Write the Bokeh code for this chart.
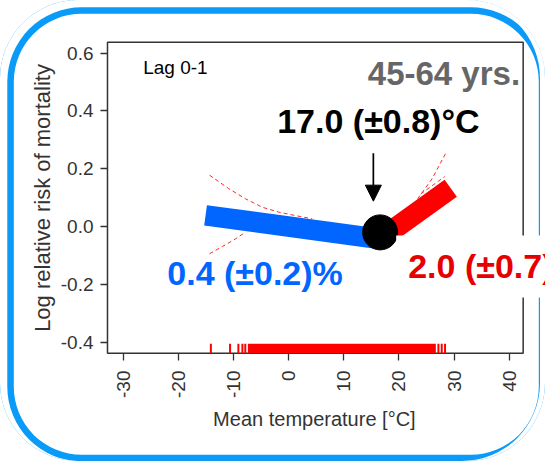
import math
from bokeh.plotting import figure
from bokeh.models import (Range1d, FixedTicker, PrintfTickFormatter, Label, Arrow,
                          NormalHead)
from bokeh.embed import file_html
from bokeh.resources import INLINE

# ---------------- data ----------------
x_ticks = [-30, -20, -10, 0, 10, 20, 30, 40]
y_ticks = [-0.4, -0.2, 0.0, 0.2, 0.4, 0.6]

cold_x = [-15.06, 16.6]
cold_y = [0.039, -0.043]
heat_x = [16.6, 29.4]
heat_y = [-0.043, 0.133]
threshold_x = [16.6]
threshold_y = [-0.020]

ci_cold_upper_x = [-14.34, -10.84, -7.80, -4.77, -1.76, 1.27, 4.30]
ci_cold_upper_y = [0.178, 0.131, 0.096, 0.067, 0.050, 0.038, 0.027]
ci_cold_lower_x = [-14.34, -12.03, -9.93, -7.80]
ci_cold_lower_y = [-0.094, -0.069, -0.046, -0.019]
ci_heat_upper_x = [23.4, 26.0, 28.5]
ci_heat_upper_y = [0.096, 0.165, 0.254]
ci_heat_fit_x = [23.96, 28.31]
ci_heat_fit_y = [0.113, 0.173]

rug_x = [-14.1, -10.62, -9.11, -8.38, -7.86, 27.17, 27.77, 28.37]
rug_dense_left = [-7.39]
rug_dense_right = [26.7]

arrow_x = 15.37
arrow_y_start = 0.254
arrow_y_end = 0.088

# panel box (R-style plot region) and the visible ranges
box_x0, box_x1 = -32.85, 42.54
box_y0, box_y1 = -0.438, 0.638
x_lo, x_hi = -33.21, 46.59
y_lo, y_hi = -0.446, 0.6439
rug_top = -0.405

FONT = "Liberation Sans"
GREY = "#333333"
BLUE = "#0066FF"
RED = "#FF0000"

p = figure(frame_width=440, frame_height=315,
           min_border_left=105, min_border_right=0,
           min_border_top=40, min_border_bottom=106,
           x_range=Range1d(x_lo, x_hi), y_range=Range1d(y_lo, y_hi),
           output_backend="svg", toolbar_location=None,
           background_fill_alpha=0)
p.border_fill_alpha = 0
p.styles = {"border-radius": "78px",
            "box-shadow": ("inset -5px 0 0 0 white, "
                           "inset 3.8px 3.8px 0 3.5px white, "
                           "inset 3.8px 3.8px 0 10px #0A9AF8"),
            "background-color": "white"}

p.grid.visible = False
p.outline_line_color = None

# axes
p.xaxis.ticker = FixedTicker(ticks=x_ticks)
p.yaxis.ticker = FixedTicker(ticks=y_ticks)
p.xaxis.formatter = PrintfTickFormatter(format="%d")
p.yaxis.formatter = PrintfTickFormatter(format="%.1f")
for ax in (p.xaxis, p.yaxis):
    ax.axis_line_color = None
    ax.minor_tick_line_color = None
    ax.major_tick_in = 2
    ax.major_tick_out = 5
    ax.major_tick_line_color = GREY
    ax.major_tick_line_width = 1.3
    ax.major_label_text_font = FONT
    ax.major_label_text_font_size = "19px"
    ax.major_label_text_color = GREY
    ax.axis_label_text_font = FONT
    ax.axis_label_text_font_style = "normal"
    ax.axis_label_text_color = GREY
p.xaxis.major_label_orientation = math.pi / 2
p.xaxis.major_label_standoff = 10
p.yaxis.major_label_standoff = 7
p.xaxis.axis_label = "Mean temperature [°C]" + "\u00a0" * 4
p.yaxis.axis_label = "Log relative risk of mortality"
p.xaxis.axis_label_text_font_size = "20px"
p.yaxis.axis_label_text_font_size = "22px"
p.xaxis.axis_label_standoff = 7
p.yaxis.axis_label_standoff = 3

# plot box
p.quad(left=[box_x0], right=[box_x1], bottom=[box_y0], top=[box_y1],
       fill_color="white", line_color=GREY, line_width=1.5)

# rug
p.quad(left=rug_dense_left, right=rug_dense_right, bottom=[box_y0], top=[rug_top],
       fill_color=RED, line_color=None)
p.segment(x0=rug_x, x1=rug_x, y0=[box_y0] * len(rug_x), y1=[rug_top] * len(rug_x),
          line_color=RED, line_width=2)

# confidence bands (dashed)
for xs, ys in ((ci_cold_upper_x, ci_cold_upper_y), (ci_cold_lower_x, ci_cold_lower_y),
               (ci_heat_upper_x, ci_heat_upper_y), (ci_heat_fit_x, ci_heat_fit_y)):
    p.line(xs, ys, line_color="#FF2A2A", line_width=1, line_dash="4 3")

# fitted segments
p.line(cold_x, cold_y, line_color=BLUE, line_width=20.5, line_cap="butt")
p.line(heat_x, heat_y, line_color=RED, line_width=21, line_cap="butt")
p.scatter(threshold_x, threshold_y, marker="circle", size=35,
          fill_color="black", line_color="black")

# arrow
p.add_layout(Arrow(x_start=arrow_x, y_start=arrow_y_start, x_end=arrow_x, y_end=arrow_y_end,
                   line_color="black", line_width=1.7,
                   end=NormalHead(size=16, fill_color="black", line_color="black")))

# texts
def lab(**kw):
    kw.setdefault("text_font", FONT)
    kw.setdefault("text_baseline", "bottom")
    p.add_layout(Label(**kw))

lab(x=-26.37, y=0.5145, text="Lag 0-1", text_font_size="19px", text_color="black")
lab(x=41.98, y=0.464, text="45-64 yrs.", text_font_size="33px",
    text_font_style="bold", text_color="#666666", text_align="right")
lab(x=16.28, y=0.298, text="17.0 (±0.8)°C", text_font_size="34px",
    text_font_style="bold", text_color="black", text_align="center")
lab(x=-22.0, y=-0.2246, text="0.4 (±0.2)%", text_font_size="34px",
    text_font_style="bold", text_color=BLUE)
lab(x=19.51, y=-0.2453, text="2.0 (±0.7)%", text_font_size="34px",
    text_font_style="bold", text_color="#E60000",
    background_fill_color="white", padding=12)

open("out.html", "w").write(file_html(p, INLINE))
